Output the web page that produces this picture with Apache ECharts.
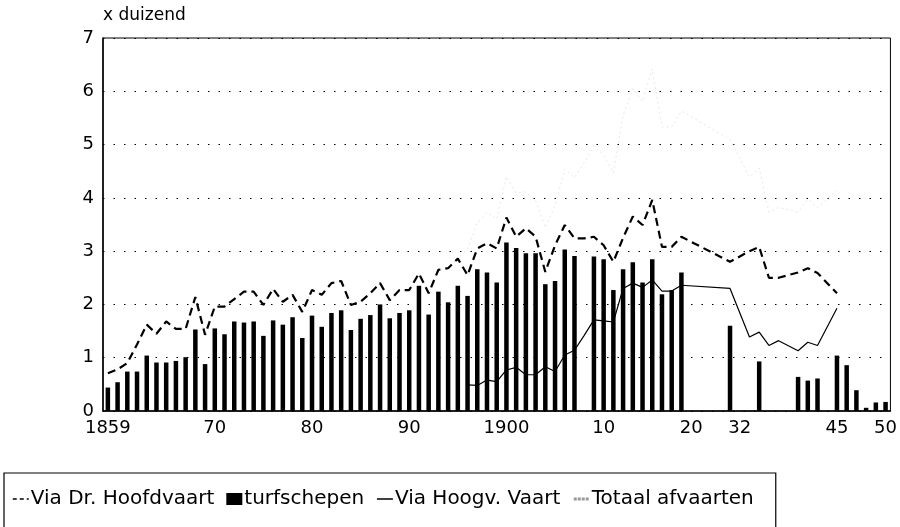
<!DOCTYPE html>
<html>
<head>
<meta charset="utf-8">
<script src="https://cdn.jsdelivr.net/npm/echarts@6/dist/echarts.min.js"></script>
<style>
  html, body { margin: 0; padding: 0; background: #fff; }
  #chart { width: 900px; height: 527px; }
</style>
</head>
<body>
<div id="chart"></div>
<script>
// Category years along the x axis (1859-1918 yearly, then the later sample years)
const years = [
  1859, 1860, 1861, 1862, 1863, 1864, 1865, 1866, 1867, 1868,
  1869, 1870, 1871, 1872, 1873, 1874, 1875, 1876, 1877, 1878,
  1879, 1880, 1881, 1882, 1883, 1884, 1885, 1886, 1887, 1888,
  1889, 1890, 1891, 1892, 1893, 1894, 1895, 1896, 1897, 1898,
  1899, 1900, 1901, 1902, 1903, 1904, 1905, 1906, 1907, 1908,
  1909, 1910, 1911, 1912, 1913, 1914, 1915, 1916, 1917, 1918,
  1920, 1922, 1925, 1928, 1930, 1932, 1934, 1935, 1936, 1937,
  1938, 1939, 1940, 1941, 1943, 1945, 1946, 1947, 1948, 1949,
  1950
];

// Years that carry a label, and the text shown for them
const labelYears = [1859, 1870, 1880, 1890, 1900, 1910, 1920, 1932, 1945, 1950];
const labelTexts = ['1859', '70', '80', '90', '1900', '10', '20', '32', '45', '50'];

// Departures via the Drentsche Hoofdvaart (x 1000)
const viaDrHoofdvaart = [
  0.71, 0.78, 0.90, 1.25, 1.62, 1.45, 1.68, 1.54, 1.54, 2.14,
  1.43, 1.96, 1.96, 2.10, 2.24, 2.24, 1.99, 2.29, 2.05, 2.18,
  1.86, 2.27, 2.18, 2.40, 2.44, 1.99, 2.05, 2.21, 2.40, 2.08,
  2.27, 2.27, 2.58, 2.21, 2.65, 2.68, 2.86, 2.55, 3.05, 3.15,
  3.05, 3.63, 3.27, 3.43, 3.27, 2.61, 3.11, 3.49, 3.24, 3.24,
  3.27, 3.11, 2.80, 3.25, 3.65, 3.49, 3.96, 3.08, 3.08, 3.27,
  null, null, null, null, 2.80, null, 3.00, 3.08, 2.50, 2.50,
  null, 2.60, 2.68, 2.59, null, 2.21, null, null, null, null,
  null
];

// Peat ships (turfschepen, x 1000)
const turfschepen = [
  0.44, 0.54, 0.74, 0.74, 1.04, 0.91, 0.91, 0.94, 1.01, 1.53,
  0.88, 1.55, 1.44, 1.68, 1.66, 1.68, 1.41, 1.70, 1.62, 1.76,
  1.37, 1.79, 1.58, 1.84, 1.89, 1.52, 1.73, 1.80, 2.00, 1.74,
  1.84, 1.89, 2.35, 1.81, 2.24, 2.04, 2.35, 2.16, 2.66, 2.60,
  2.41, 3.16, 3.06, 2.96, 2.96, 2.38, 2.44, 3.03, 2.91, null,
  2.90, 2.85, 2.27, 2.66, 2.79, 2.41, 2.85, 2.19, 2.27, 2.60,
  null, null, null, null, 1.60, null, null, 0.93, null, null,
  null, 0.64, 0.57, 0.61, null, 1.04, 0.86, 0.39, 0.06, 0.16,
  0.17
];

// Departures via the Hoogeveense Vaart (x 1000)
const viaHoogvVaart = [
  null, null, null, null, null, null, null, null, null, null,
  null, null, null, null, null, null, null, null, null, null,
  null, null, null, null, null, null, null, null, null, null,
  null, null, null, null, null, null, null, 0.49, 0.48, 0.58,
  0.55, 0.77, 0.82, 0.68, 0.68, 0.83, 0.74, 1.05, 1.14, 1.42,
  1.71, 1.69, 1.67, 2.30, 2.40, 2.32, 2.46, 2.25, 2.25, 2.36,
  null, null, null, null, 2.30, null, 1.39, 1.48, 1.23, 1.32,
  null, 1.13, 1.29, 1.23, null, 1.93, null, null, null, null,
  null
];

// Total departures (x 1000)
const totaalAfvaarten = [
  0.71, 0.78, 0.90, 1.25, 1.62, 1.45, 1.68, 1.54, 1.54, 2.14,
  1.43, 1.96, 1.96, 2.10, 2.24, 2.24, 1.99, 2.29, 2.05, 2.18,
  1.86, 2.27, 2.18, 2.40, 2.44, 1.99, 2.05, 2.21, 2.40, 2.08,
  2.27, 2.27, 2.58, 2.21, 2.65, 2.68, 2.86, 3.04, 3.53, 3.73,
  3.60, 4.40, 4.09, 4.11, 3.95, 3.44, 3.85, 4.54, 4.38, 4.66,
  4.98, 4.80, 4.47, 5.55, 6.05, 5.81, 6.42, 5.33, 5.33, 5.63,
  null, null, null, null, 5.10, null, 4.39, 4.56, 3.73, 3.82,
  null, 3.73, 3.97, 3.82, null, 4.14, null, null, null, null,
  null
];

const FONT = "'DejaVu Sans', 'Liberation Sans', Arial, sans-serif";

const chart = echarts.init(document.getElementById('chart'), null, { renderer: 'canvas' });

chart.setOption({
  animation: false,
  backgroundColor: '#fff',
  textStyle: { fontFamily: FONT, color: '#000' },
  grid: {
    left: 103, right: 7, top: 38, bottom: 116,
    show: true, borderColor: '#000', borderWidth: 1, backgroundColor: 'transparent'
  },
  legend: {
    left: 4, top: 473,
    orient: 'horizontal',
    padding: [16, 22, 40, 8],
    borderColor: '#000', borderWidth: 1.2,
    itemWidth: 16, itemHeight: 12, itemGap: 12,
    textStyle: { fontSize: 20, fontFamily: FONT, color: '#000', padding: [0, 0, 0, -3] },
    data: [
      { name: 'Via Dr. Hoofdvaart', itemStyle: { opacity: 0 }, lineStyle: { width: 1.5, type: [4, 3] } },
      { name: 'turfschepen', icon: 'rect' },
      { name: 'Via Hoogv. Vaart', itemStyle: { opacity: 0 }, lineStyle: { width: 1.5 } },
      { name: 'Totaal afvaarten', itemStyle: { opacity: 0 }, lineStyle: { color: '#9a9a9a', width: 3, type: [3, 1] } }
    ]
  },
  xAxis: {
    type: 'category',
    data: years.map(String),
    boundaryGap: true,
    axisLine: { lineStyle: { color: '#000', width: 1.5 } },
    axisTick: { alignWithLabel: true, interval: 0, length: 5, lineStyle: { color: '#000', width: 1 } },
    axisLabel: {
      interval: 0, margin: 8, fontSize: 18, color: '#000', fontFamily: FONT,
      formatter: function (v) {
        const i = labelYears.indexOf(Number(v));
        return i >= 0 ? labelTexts[i] : '';
      }
    },
    splitLine: { show: false }
  },
  yAxis: {
    type: 'value',
    min: 0, max: 7, interval: 1,
    name: 'x duizend',
    nameLocation: 'end',
    nameGap: 14,
    nameTextStyle: { align: 'left', fontSize: 17, color: '#000', fontFamily: FONT },
    axisLine: { show: true, lineStyle: { color: '#000', width: 1.5 } },
    axisTick: { show: false },
    axisLabel: { margin: 9, fontSize: 18, color: '#000', fontFamily: FONT },
    splitLine: { show: true, lineStyle: { color: '#000', width: 1.2, type: [1.5, 9] } }
  },
  series: [
    {
      name: 'Via Dr. Hoofdvaart',
      type: 'line',
      data: viaDrHoofdvaart,
      connectNulls: true,
      symbol: 'none',
      z: 4,
      lineStyle: { color: '#000', width: 2.2, type: [8, 5] },
      itemStyle: { color: '#000' }
    },
    {
      name: 'turfschepen',
      type: 'bar',
      data: turfschepen,
      barWidth: 4.5,
      z: 2,
      itemStyle: { color: '#000' }
    },
    {
      name: 'Via Hoogv. Vaart',
      type: 'line',
      data: viaHoogvVaart,
      connectNulls: true,
      symbol: 'none',
      z: 3,
      lineStyle: { color: '#000', width: 1.2 },
      itemStyle: { color: '#000' }
    },
    {
      name: 'Totaal afvaarten',
      type: 'line',
      data: totaalAfvaarten,
      connectNulls: true,
      symbol: 'none',
      z: 1,
      lineStyle: { color: '#e8e8e8', width: 1, type: [2, 3] },
      itemStyle: { color: '#9a9a9a' }
    }
  ]
});
</script>
</body>
</html>
